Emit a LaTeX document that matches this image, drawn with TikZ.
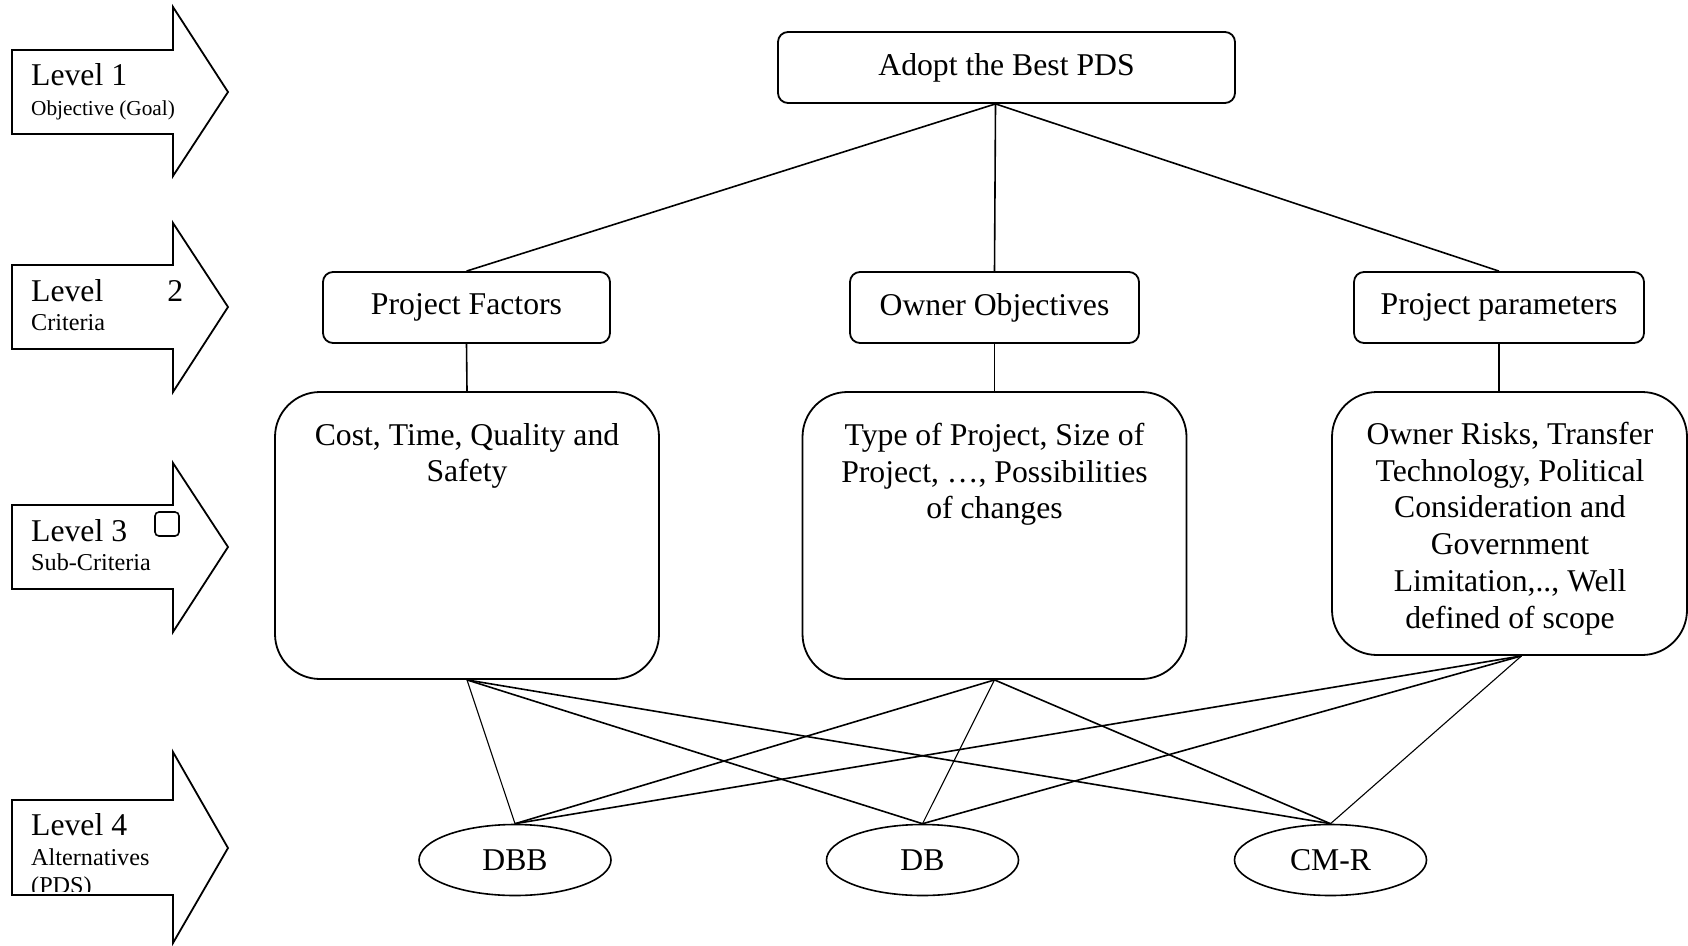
\documentclass[tikz,border=0pt]{standalone}
\usepackage{fontspec}
\setmainfont{Liberation Serif}
\usetikzlibrary{shapes.geometric}
\begin{document}
\begin{tikzpicture}[x=1pt,y=-1pt,
  big/.style={font=\fontsize{31.7}{36.7}\selectfont},
  small/.style={font=\fontsize{21.3}{24.5}\selectfont},
  mid/.style={font=\fontsize{24.2}{27.8}\selectfont},
  box/.style={draw, line width=1.8pt, rounded corners=10pt, inner sep=0pt, big},
  subbox/.style={draw, line width=1.8pt, rounded corners=45pt, inner sep=0pt},
  subtext/.style={big, align=center, anchor=north, inner sep=0pt},
  alt/.style={draw, ellipse, line width=1.6pt, minimum width=192pt, minimum height=71pt, inner sep=0pt, big},
  link/.style={line width=1.6pt},
  thinlink/.style={line width=1.1pt},
  levarrow/.style={draw, line width=1.8pt, fill=white, line join=miter},
  lvl/.style={big, anchor=base west, inner sep=0pt},
  sub/.style={small, anchor=base west, inner sep=0pt},
  submid/.style={mid, anchor=base west, inner sep=0pt}
]
\useasboundingbox (0,0) rectangle (1688,945);
\fill[white] (0,0) rectangle (1688,945);

% level arrows
\draw[levarrow] (12,50) -- (173,50) -- (173,7) -- (228,92) -- (173,176) -- (173,134) -- (12,134) -- cycle;
\draw[levarrow] (12,265) -- (173,265) -- (173,223) -- (228,307) -- (173,392) -- (173,349) -- (12,349) -- cycle;
\draw[levarrow] (12,505) -- (173,505) -- (173,463) -- (228,547) -- (173,632) -- (173,589) -- (12,589) -- cycle;
\draw[levarrow] (12,800) -- (173,800) -- (173,752) -- (228,848) -- (173,943) -- (173,895) -- (12,895) -- cycle;

\node[lvl] (l1) at (31,85) {Level 1};
\node[sub] (l1s) at (31,115) {Objective (Goal)};
\node[lvl] (l2) at (31,301) {\makebox[152pt][l]{Level\hfill 2}};
\node[submid] (l2s) at (31,330) {Criteria};
\node[lvl] (l3) at (31,541) {Level 3};
\node[submid] (l3s) at (31,570) {Sub-Criteria};
\node[draw, line width=1.6pt, rounded corners=4pt, minimum width=24pt, minimum height=24pt, inner sep=0pt] (sq) at (167,524) {};
\node[lvl] (l4) at (31,835) {Level 4};
\node[submid] (l4s) at (31,865) {Alternatives};
\begin{scope}
  \clip (12,800) rectangle (173,891);
  \node[submid] (l4p) at (31,893) {(PDS)};
\end{scope}

% goal
\node[box, minimum width=457pt, minimum height=71pt] (goal) at (1006.5,67.5) {\raisebox{4pt}{Adopt the Best PDS}};
\coordinate (goalc) at ([xshift=-11pt]goal.south);

% criteria
\node[box, minimum width=287pt, minimum height=71pt] (pf) at (466.5,307.5) {Project Factors};
\node[box, minimum width=289pt, minimum height=71pt] (oo) at (994.5,307.5) {Owner Objectives};
\node[box, minimum width=290pt, minimum height=71pt] (pp) at (1499,307.5) {Project parameters};

% sub-criteria
\node[subbox, minimum width=384pt, minimum height=287pt] (s1) at (467,535.5) {};
\node[subtext] (t1) at (467,423) {Cost, Time, Quality and\\Safety};
\node[subbox, minimum width=384pt, minimum height=287pt] (s2) at (994.5,535.5) {};
\node[subtext] (t2) at (994.5,423) {Type of Project, Size of\\Project, …, Possibilities\\of changes};
\node[subbox, minimum width=355pt, minimum height=263pt] (s3) at (1509.5,523.5) {};
\node[subtext] (t3) at (1510,422) {Owner Risks, Transfer\\Technology, Political\\Consideration and\\Government\\Limitation,.., Well\\defined of scope};
\coordinate (s3c) at ([xshift=12pt]s3.south);

% alternatives
\node[alt] (dbb) at (515,860) {DBB};
\node[alt] (db) at (922.5,860) {DB};
\node[alt] (cmr) at (1330.5,860) {CM-R};

% connectors
\draw[link] (goalc) -- (pf.north);
\draw[link] (goalc) -- (oo.north);
\draw[link] (goalc) -- (pp.north);
\draw[link] (pf.south) -- (s1.north);
\draw[link] (oo.south) -- (s2.north);
\draw[link] (pp.south) -- (pp.south |- s3.north);

\draw[thinlink] (s1.south) -- (dbb.north);
\draw[link] (s1.south) -- (db.north);
\draw[link] (s1.south) -- (cmr.north);
\draw[link] (s2.south) -- (dbb.north);
\draw[thinlink] (s2.south) -- (db.north);
\draw[link] (s2.south) -- (cmr.north);
\draw[link] (s3c) -- (dbb.north);
\draw[link] (s3c) -- (db.north);
\draw[thinlink] (s3c) -- (cmr.north);
\end{tikzpicture}
\end{document}
